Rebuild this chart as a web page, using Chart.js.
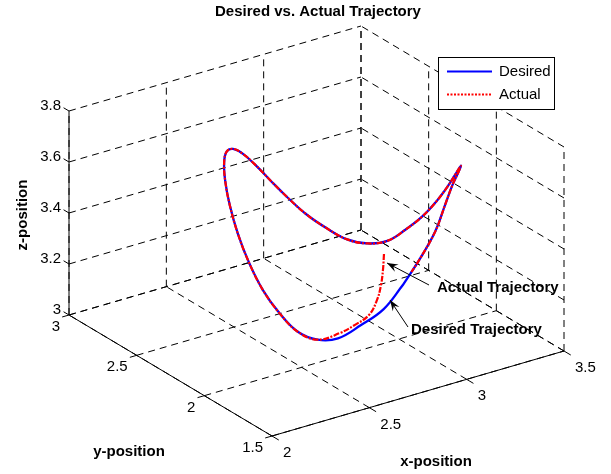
<!DOCTYPE html>
<html>
<head>
<meta charset="utf-8">
<title>Desired vs. Actual Trajectory</title>
<script src="https://cdn.jsdelivr.net/npm/chart.js@4.4.1/dist/chart.umd.min.js"></script>
<style>
  html, body { margin: 0; padding: 0; background: #fff; }
  #wrap { width: 611px; height: 474px; }
</style>
</head>
<body>
<div id="wrap"><canvas id="traj" width="611" height="474"></canvas></div>
<script>
// =====================================
// 3-D trajectory plot (matlab style view) drawn on a flat scatter chart
// =====================================

// ---------- axis ticks ----------
const xTicks = [2, 2.5, 3, 3.5];
const yTicks = [1.5, 2, 2.5, 3];
const zTicks = [3, 3.2, 3.4, 3.6, 3.8];

// ---------- desired trajectory ----------
const desiredX = [2.674, 2.589, 2.495, 2.409, 2.344, 2.291, 2.250, 2.223, 2.211, 2.214, 2.232, 2.265, 2.311,
  2.369, 2.438, 2.515, 2.598, 2.684, 2.771, 2.856, 2.937, 3.011, 3.076, 3.129, 3.170, 3.197, 3.209,
  3.206, 3.188, 3.156, 3.109, 3.051, 2.982, 2.917, 2.848, 2.761, 2.674];
const desiredY = [1.504, 1.522, 1.554, 1.601, 1.659, 1.728, 1.805, 1.888, 1.974, 2.061, 2.146, 2.227, 2.301,
  2.366, 2.419, 2.460, 2.487, 2.499, 2.496, 2.478, 2.446, 2.399, 2.341, 2.272, 2.195, 2.113, 2.026,
  1.939, 1.854, 1.773, 1.699, 1.634, 1.581, 1.540, 1.513, 1.501, 1.504];
const desiredZ = [3.440, 3.360, 3.308, 3.260, 3.251, 3.272, 3.330, 3.400, 3.484, 3.570, 3.650, 3.712, 3.750,
  3.759, 3.738, 3.690, 3.620, 3.536, 3.450, 3.370, 3.308, 3.262, 3.250, 3.270, 3.330, 3.400, 3.484,
  3.570, 3.650, 3.712, 3.750, 3.759, 3.738, 3.690, 3.610, 3.526, 3.440];

// ---------- actual trajectory ----------
const actualX = [2.578, 2.577, 2.571, 2.557, 2.526, 2.468, 2.412, 2.344, 2.291, 2.250, 2.223, 2.211, 2.214,
  2.232, 2.265, 2.311, 2.369, 2.438, 2.515, 2.598, 2.684, 2.771, 2.856, 2.937, 3.011, 3.076, 3.129,
  3.170, 3.197, 3.209, 3.206, 3.188, 3.156, 3.109, 3.051, 2.982, 2.917, 2.848, 2.761, 2.718];
const actualY = [1.504, 1.510, 1.516, 1.525, 1.540, 1.560, 1.590, 1.659, 1.728, 1.805, 1.888, 1.974, 2.061,
  2.146, 2.227, 2.301, 2.366, 2.419, 2.460, 2.487, 2.499, 2.496, 2.478, 2.446, 2.399, 2.341, 2.272,
  2.195, 2.113, 2.026, 1.939, 1.854, 1.773, 1.699, 1.634, 1.581, 1.540, 1.513, 1.501, 1.502];
const actualZ = [3.584, 3.520, 3.460, 3.402, 3.345, 3.313, 3.284, 3.251, 3.272, 3.330, 3.400, 3.484, 3.570,
  3.650, 3.712, 3.750, 3.759, 3.738, 3.690, 3.620, 3.536, 3.450, 3.370, 3.308, 3.262, 3.250, 3.270,
  3.330, 3.400, 3.484, 3.570, 3.650, 3.712, 3.750, 3.759, 3.738, 3.690, 3.610, 3.526, 3.483];

// ---------- projection ----------
// box is stretched to fill, each axis gets its own screen vector (px for the full range)
const xLim = [xTicks[0], xTicks[xTicks.length - 1]];
const yLim = [yTicks[0], yTicks[yTicks.length - 1]];
const zLim = [zTicks[0], zTicks[zTicks.length - 1]];
const ex = [292, 85], ey = [-203, 121], ez = [0, 204];

function project(x, y, z) {
  const u = (x - xLim[0]) / (xLim[1] - xLim[0]);
  const v = (y - yLim[0]) / (yLim[1] - yLim[0]);
  const w = (z - zLim[0]) / (zLim[1] - zLim[0]);
  return { x: u * ex[0] + v * ey[0] + w * ez[0], y: u * ex[1] + v * ey[1] + w * ez[1] };
}

function line3d(xs, ys, zs) {
  return xs.map((x, i) => project(x, ys[i], zs[i]));
}

function segment(p, q, dashed) {
  return {
    data: [project(p[0], p[1], p[2]), project(q[0], q[1], q[2])],
    showLine: true,
    borderColor: "#000",
    borderWidth: 1,
    borderDash: dashed ? [7, 5] : [],
    pointRadius: 0,
    order: dashed ? 5 : 4
  };
}

// ---------- grid (back walls + floor) and front axes ----------
const datasets = [];
const [x0, x1] = xLim, [y0, y1] = yLim, [z0, z1] = zLim;

xTicks.forEach(v => {
  datasets.push(segment([v, y0, z0], [v, y1, z0], true));
  datasets.push(segment([v, y1, z0], [v, y1, z1], true));
});
yTicks.forEach(v => {
  datasets.push(segment([x0, v, z0], [x1, v, z0], true));
  datasets.push(segment([x1, v, z0], [x1, v, z1], true));
});
zTicks.forEach(v => {
  datasets.push(segment([x0, y1, v], [x1, y1, v], true));
  datasets.push(segment([x1, y0, v], [x1, y1, v], true));
});

datasets.push(segment([x0, y0, z0], [x1, y0, z0], false));
datasets.push(segment([x0, y0, z0], [x0, y1, z0], false));
datasets.push(segment([x0, y1, z0], [x0, y1, z1], false));

// tick marks
xTicks.forEach(v => datasets.push(segment([v, y0, z0], [v, y0 - 0.05, z0], false)));
yTicks.forEach(v => datasets.push(segment([x0, v, z0], [x0 - 0.035, v, z0], false)));
zTicks.forEach(v => datasets.push(segment([x0, y1, v], [x0, y1 + 0.04, v], false)));

// trajectories
datasets.push({
  label: "Desired",
  data: line3d(desiredX, desiredY, desiredZ),
  showLine: true,
  borderColor: "#0000ff",
  borderWidth: 2.3,
  tension: 0.4,
  pointRadius: 0,
  order: 2
});
datasets.push({
  label: "Actual",
  data: line3d(actualX, actualY, actualZ),
  showLine: true,
  borderColor: "#ff0000",
  borderWidth: 2.2,
  borderDash: [6, 1.5, 2, 1.5],
  tension: 0.4,
  pointRadius: 0,
  order: 1
});

// ---------- texts, legend, arrows ----------
const FONT = "'Liberation Sans', Arial, sans-serif";

function arrow(ctx, x1, y1, x2, y2) {
  const a = Math.atan2(y2 - y1, x2 - x1);
  ctx.beginPath();
  ctx.moveTo(x1, y1);
  ctx.lineTo(x2, y2);
  ctx.stroke();
  ctx.beginPath();
  ctx.moveTo(x2, y2);
  ctx.lineTo(x2 - 11 * Math.cos(a) + 4 * Math.sin(a), y2 - 11 * Math.sin(a) - 4 * Math.cos(a));
  ctx.lineTo(x2 - 7 * Math.cos(a), y2 - 7 * Math.sin(a));
  ctx.lineTo(x2 - 11 * Math.cos(a) - 4 * Math.sin(a), y2 - 11 * Math.sin(a) + 4 * Math.cos(a));
  ctx.closePath();
  ctx.fill();
}

const labelPlugin = {
  id: "labels3d",
  afterDatasetsDraw(chart) {
    const ctx = chart.ctx;
    const sx = chart.scales.x, sy = chart.scales.y;
    const px = (x, y, z) => {
      const p = project(x, y, z);
      return [sx.getPixelForValue(p.x), sy.getPixelForValue(p.y)];
    };
    ctx.save();
    ctx.fillStyle = "#000";
    ctx.strokeStyle = "#000";

    // title
    ctx.font = "bold 15px " + FONT;
    ctx.textAlign = "center";
    ctx.textBaseline = "middle";
    ctx.fillText("Desired vs. Actual Trajectory", 318, 12);

    // tick labels
    ctx.font = "15px " + FONT;
    ctx.textAlign = "right";
    zTicks.forEach(v => {
      const [a, b] = px(x0, y1, v);
      ctx.fillText(String(v), a - 8, b - 5);
    });
    yTicks.forEach(v => {
      const [a, b] = px(x0, v, z0);
      ctx.fillText(String(v), a - 9, b + 12);
    });
    ctx.textAlign = "left";
    xTicks.forEach(v => {
      const [a, b] = px(v, y0, z0);
      ctx.fillText(String(v), a + 11, b + 17);
    });

    // axis titles
    ctx.font = "bold 15px " + FONT;
    ctx.textAlign = "center";
    ctx.fillText("y-position", 129, 452);
    ctx.fillText("x-position", 436, 462);
    ctx.save();
    ctx.translate(23, 215);
    ctx.rotate(-Math.PI / 2);
    ctx.fillText("z-position", 0, 0);
    ctx.restore();

    // annotations
    ctx.textAlign = "left";
    ctx.fillText("Actual Trajectory", 437, 288);
    ctx.fillText("Desired Trajectory", 411, 330);
    ctx.lineWidth = 1;
    arrow(ctx, 429, 285, 387, 263);
    arrow(ctx, 408, 327, 390, 300);

    // legend
    ctx.fillStyle = "#fff";
    ctx.fillRect(438.5, 57.5, 116, 52);
    ctx.strokeRect(438.5, 57.5, 116, 52);
    ctx.lineWidth = 2;
    ctx.strokeStyle = "#0000ff";
    ctx.beginPath(); ctx.moveTo(447, 71.5); ctx.lineTo(492, 71.5); ctx.stroke();
    ctx.strokeStyle = "#ff0000";
    ctx.setLineDash([2, 1.5]);
    ctx.beginPath(); ctx.moveTo(447, 94.5); ctx.lineTo(492, 94.5); ctx.stroke();
    ctx.setLineDash([]);
    ctx.fillStyle = "#000";
    ctx.font = "15px " + FONT;
    ctx.fillText("Desired", 499, 72);
    ctx.fillText("Actual", 499, 95);
    ctx.restore();
  }
};

new Chart(document.getElementById("traj"), {
  type: "scatter",
  data: { datasets: datasets },
  options: {
    responsive: false,
    animation: false,
    layout: { padding: 0 },
    plugins: {
      legend: { display: false },
      tooltip: { enabled: false },
      title: { display: false }
    },
    scales: {
      x: { type: "linear", display: false, min: -272, max: 339 },
      y: { type: "linear", display: false, min: -38, max: 436 }
    }
  },
  plugins: [labelPlugin]
});
</script>
</body>
</html>
